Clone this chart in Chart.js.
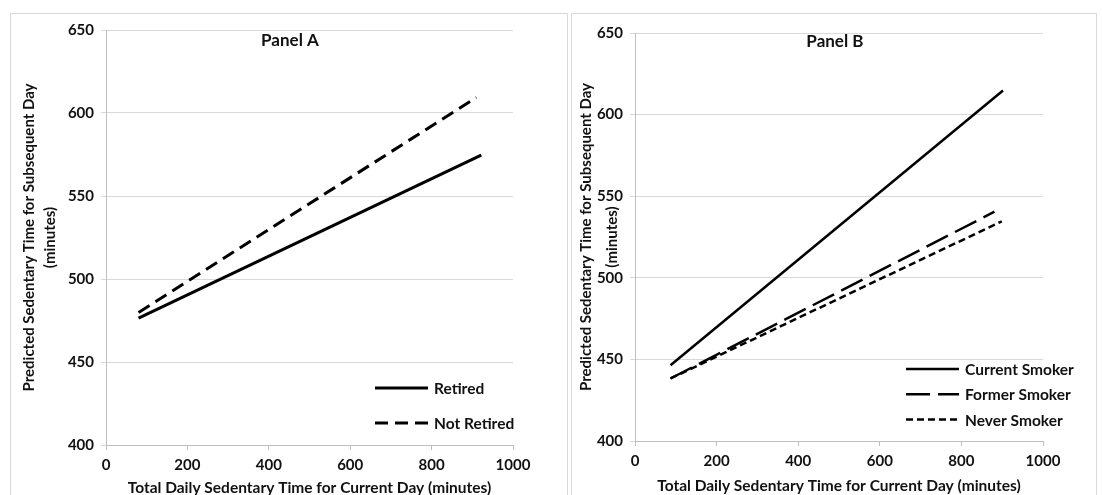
<!DOCTYPE html>
<html>
<head>
<meta charset="UTF-8">
<title>Predicted Sedentary Time</title>
<style>
    body { margin: 0; background: #fff; width: 1102px; height: 495px; overflow: hidden; position: relative; font-family: Lato, sans-serif; }
    .panel { position: absolute; top: 13px; height: 500px; border: 1px solid #d9d9d9; box-sizing: border-box; background: #fff; }
    #boxA { left: 10px; width: 558px; }
    #boxB { left: 571px; width: 526px; }
    canvas { position: absolute; }
    #chartA { left: 11px; top: 14px; }
    #chartB { left: 572px; top: 14px; }
</style>
</head>
<body>
<div class="panel" id="boxA"></div>
<div class="panel" id="boxB"></div>
<canvas id="chartA" width="555" height="481"></canvas>
<canvas id="chartB" width="523" height="481"></canvas>
<script src="https://cdn.jsdelivr.net/npm/chart.js"></script>
<script>
// Panel A - retirement status
const xRetired = [80, 922];
const yRetired = [476.4, 574.6];
const xNotRetired = [80, 910];
const yNotRetired = [479.8, 609.4];

// Panel B - smoking status
const xCurrent = [87, 902];
const yCurrent = [446.4, 614.8];
const xFormer = [87, 881];
const yFormer = [438.3, 540.5];
const xNever = [87, 899];
const yNever = [438.3, 534.6];

const xTicks = [0, 200, 400, 600, 800, 1000];
const yTicks = [400, 450, 500, 550, 600, 650];

const xTitle = 'Total Daily Sedentary Time for Current Day (minutes)';
const yTitle = ['Predicted Sedentary Time for Subsequent Day', '(minutes)'];

const textColor = '#111';
const gridColor = '#d9d9d9';

function pts(xs, ys) {
    return xs.map((x, i) => ({ x: x, y: ys[i] }));
}

// panel title and the legend, drawn inside the plot area
const overlay = {
    id: 'overlay',
    afterDraw(chart, args, opts) {
        const ctx = chart.ctx;
        const area = chart.chartArea;
        ctx.save();
        ctx.fillStyle = textColor;
        ctx.textBaseline = 'middle';
        ctx.textAlign = 'center';
        ctx.font = 'bold 17px Lato';
        ctx.fillText(opts.title, area.left + opts.titleX * area.width, area.top + opts.titleY);
        ctx.font = 'bold 15.5px Lato';
        ctx.textAlign = 'left';
        chart.data.datasets.forEach((ds, i) => {
            const y = area.top + opts.legendY + i * opts.legendGap;
            const x0 = area.right - opts.legendRight;
            ctx.beginPath();
            ctx.setLineDash(ds.borderDash || []);
            ctx.lineWidth = ds.borderWidth;
            ctx.strokeStyle = ds.borderColor;
            ctx.moveTo(x0, y);
            ctx.lineTo(x0 + 53, y);
            ctx.stroke();
            ctx.setLineDash([]);
            ctx.fillText(ds.label, x0 + 59, y + 1);
        });
        ctx.restore();
    }
};

function makeOptions(cfg) {
    const tickFont = { family: 'Lato', size: 15, weight: 'bold' };
    return {
        responsive: false,
        animation: false,
        layout: { padding: { top: cfg.top, right: cfg.right, left: 0, bottom: 0 } },
        plugins: {
            legend: { display: false },
            tooltip: { enabled: false },
            overlay: cfg.overlay
        },
        scales: {
            x: {
                type: 'linear',
                min: 0, max: 1000,
                afterBuildTicks: s => { s.ticks = xTicks.map(v => ({ value: v })); },
                afterFit: s => { s.height = cfg.xHeight; },
                border: { color: '#bfbfbf', width: 1 },
                grid: { drawOnChartArea: false, color: '#bfbfbf', tickLength: 5 },
                ticks: { color: textColor, font: tickFont, padding: 6, maxRotation: 0, callback: v => String(v) },
                title: { display: true, text: xTitle, color: textColor, font: { family: 'Lato', size: 15.5, weight: 'bold' }, padding: { top: 0, bottom: cfg.xTitlePad } }
            },
            y: {
                type: 'linear',
                min: 400, max: 650,
                afterBuildTicks: s => { s.ticks = yTicks.map(v => ({ value: v })); },
                afterFit: s => { s.width = cfg.yWidth; },
                border: { color: '#bfbfbf', width: 1 },
                grid: { color: gridColor, tickLength: 5 },
                ticks: { color: textColor, font: tickFont, padding: 7, callback: v => String(v) },
                title: { display: true, text: yTitle, color: textColor, font: { family: 'Lato', size: 15, weight: 'bold', lineHeight: cfg.yLine / 15 }, padding: { top: cfg.yTitlePad, bottom: 0 } }
            }
        }
    };
}

function line(label, data, dash, width) {
    return {
        label: label,
        data: data,
        showLine: true,
        borderColor: '#000',
        backgroundColor: '#000',
        borderWidth: width,
        borderDash: dash,
        pointRadius: 0,
        fill: false
    };
}

new Chart(document.getElementById('chartA'), {
    type: 'scatter',
    data: {
        datasets: [
            line('Retired', pts(xRetired, yRetired), [], 3),
            line('Not Retired', pts(xNotRetired, yNotRetired), [13, 7], 3)
        ]
    },
    options: makeOptions({
        top: 16, right: 53, xHeight: 50, yWidth: 95, yLine: 21, yTitlePad: 8, xTitlePad: -2,
        overlay: { title: 'Panel A', titleX: 0.452, titleY: 11, legendY: 358, legendGap: 35, legendRight: 138 }
    }),
    plugins: [overlay]
});

new Chart(document.getElementById('chartB'), {
    type: 'scatter',
    data: {
        datasets: [
            line('Current Smoker', pts(xCurrent, yCurrent), [], 2.5),
            line('Former Smoker', pts(xFormer, yFormer), [24, 8], 2.5),
            line('Never Smoker', pts(xNever, yNever), [7, 4], 2.5)
        ]
    },
    options: makeOptions({
        top: 19, right: 52, xHeight: 54, yWidth: 63, yLine: 26, yTitlePad: 1, xTitlePad: 0,
        overlay: { title: 'Panel B', titleX: 0.49, titleY: 9, legendY: 336, legendGap: 25.3, legendRight: 137 }
    }),
    plugins: [overlay]
});
</script>
</body>
</html>
